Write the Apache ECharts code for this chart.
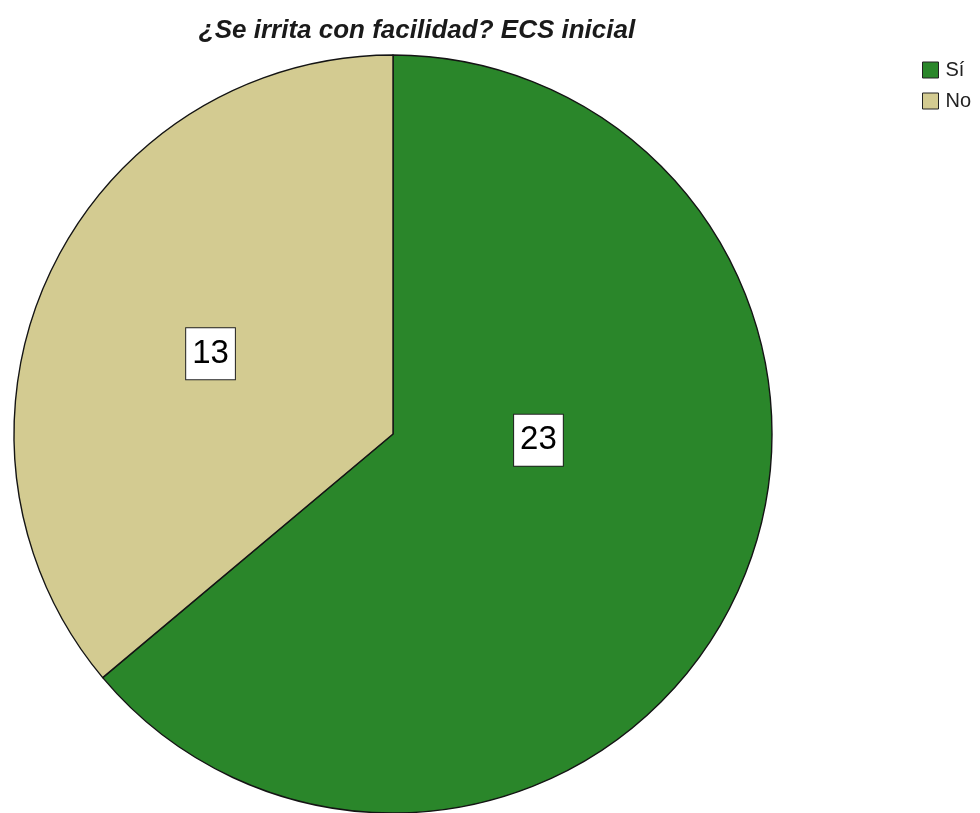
<!DOCTYPE html>
<html>
<head>
<meta charset="utf-8">
<script src="https://cdn.jsdelivr.net/npm/echarts@6/dist/echarts.min.js"></script>
<style>
  html, body { margin: 0; padding: 0; background: #ffffff; }
  #chart { width: 980px; height: 813px; }
</style>
</head>
<body>
<div id="chart"></div>
<script>
// Responses to "¿Se irrita con facilidad?" at the initial ECS assessment
const categories = ['Sí', 'No'];
const counts = [23, 13];
const sliceColors = ['#2a862a', '#d3cb91'];

// Label nudges (px) so each count sits where it reads best inside its slice
const labelShift = [[-29, -75], [-8, 1]];

const chart = echarts.init(document.getElementById('chart'), null, { renderer: 'canvas' });

chart.setOption({
  animation: false,
  title: {
    text: '¿Se irrita con facilidad? ECS inicial',
    left: 412,
    textAlign: 'center',
    top: 13,
    textStyle: {
      fontFamily: 'Liberation Sans, Arial, sans-serif',
      fontSize: 26,
      fontWeight: 'bold',
      fontStyle: 'italic',
      color: '#1a1a1a'
    }
  },
  legend: {
    orient: 'vertical',
    left: 922,
    top: 60,
    padding: 0,
    itemWidth: 16,
    itemHeight: 16,
    itemGap: 11,
    icon: 'rect',
    selectedMode: false,
    data: categories,
    itemStyle: { borderColor: '#222', borderWidth: 1 },
    textStyle: {
      fontFamily: 'Liberation Sans, Arial, sans-serif',
      fontSize: 20,
      color: '#222',
      padding: [0, 0, 0, 2]
    }
  },
  series: [{
    type: 'pie',
    center: [393, 434],
    radius: 379,
    startAngle: 90,
    clockwise: true,
    avoidLabelOverlap: false,
    itemStyle: { borderColor: '#141414', borderWidth: 1.4 },
    label: {
      show: true,
      position: 'inside',
      formatter: '{c}',
      fontFamily: 'Liberation Sans, Arial, sans-serif',
      fontSize: 33,
      color: '#000',
      backgroundColor: '#ffffff',
      borderColor: '#222',
      borderWidth: 1,
      padding: [8, 6, 6, 6],
      lineHeight: 37
    },
    labelLayout: function (params) {
      const s = labelShift[params.dataIndex];
      return { dx: s[0], dy: s[1] };
    },
    emphasis: { disabled: true },
    data: categories.map((name, i) => ({
      name: name,
      value: counts[i],
      itemStyle: { color: sliceColors[i] }
    }))
  }]
});
</script>
</body>
</html>
